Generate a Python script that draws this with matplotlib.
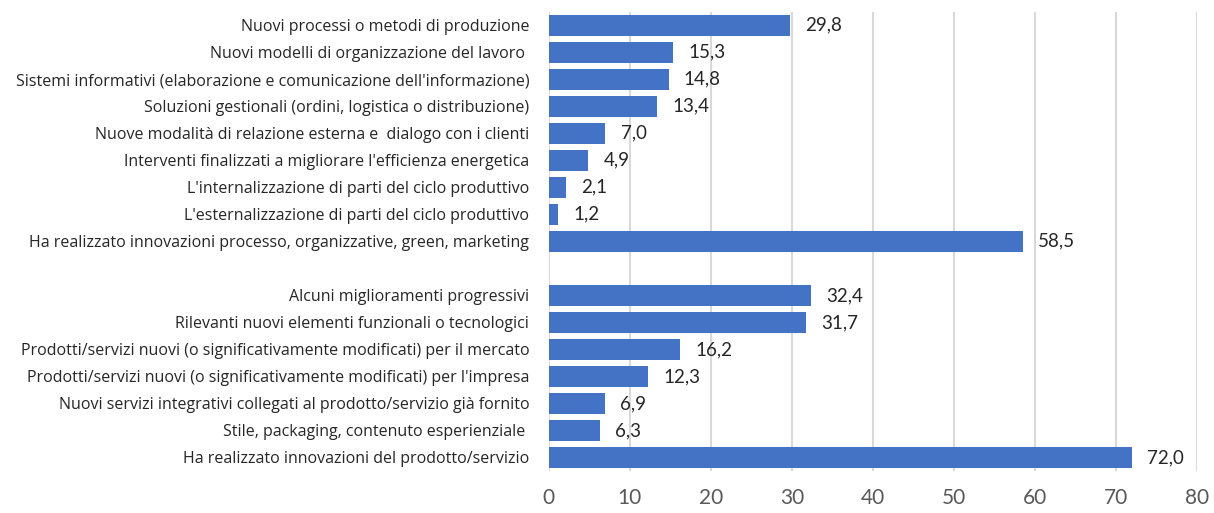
import matplotlib.pyplot as plt

# Categories top to bottom ("" = empty gap between the two groups)
labels = [
    "Nuovi processi o metodi di produzione",
    "Nuovi modelli di organizzazione del lavoro ",
    "Sistemi informativi (elaborazione e comunicazione dell'informazione)",
    "Soluzioni gestionali (ordini, logistica o distribuzione)",
    "Nuove modalità di relazione esterna e  dialogo con i clienti",
    "Interventi finalizzati a migliorare l'efficienza energetica",
    "L'internalizzazione di parti del ciclo produttivo",
    "L'esternalizzazione di parti del ciclo produttivo",
    "Ha realizzato innovazioni processo, organizzative, green, marketing",
    "",
    "Alcuni miglioramenti progressivi",
    "Rilevanti nuovi elementi funzionali o tecnologici",
    "Prodotti/servizi nuovi (o significativamente modificati) per il mercato",
    "Prodotti/servizi nuovi (o significativamente modificati) per l'impresa",
    "Nuovi servizi integrativi collegati al prodotto/servizio già fornito",
    "Stile, packaging, contenuto esperienziale ",
    "Ha realizzato innovazioni del prodotto/servizio",
]
values = [29.8, 15.3, 14.8, 13.4, 7.0, 4.9, 2.1, 1.2, 58.5,
          None,
          32.4, 31.7, 16.2, 12.3, 6.9, 6.3, 72.0]

fig = plt.figure(figsize=(12.14, 5.13), dpi=100)
ax = fig.add_axes([0.452, 0.082, 0.534, 0.895])

ypos = list(range(len(labels)))
for y, v in zip(ypos, values):
    if v is None:
        continue
    ax.barh(y, v, height=0.77, color='#4472C4', zorder=3)
    ax.annotate(f"{v:.1f}".replace('.', ','), (v, y), xytext=(11, 0),
                textcoords='offset points', va='center', ha='left',
                fontsize=13.5, family='Lato', color='#262626')

ax.set_yticks(ypos)
ax.set_yticklabels(labels, fontsize=11.5, family='Open Sans', color='#262626')
ax.set_ylim(len(labels) - 0.5, -0.5)
ax.set_xlim(0, 80)
ax.set_xticks(range(0, 81, 10))
ax.tick_params(axis='x', labelsize=15, colors='#595959', length=0, pad=12)
ax.tick_params(axis='y', length=0, pad=14)
for lbl in ax.get_xticklabels():
    lbl.set_family('Lato')
ax.grid(axis='x', color='#D9D9D9', linewidth=1.5, zorder=0)
for s in ax.spines.values():
    s.set_visible(False)

fig.savefig('out.png', dpi=100)
